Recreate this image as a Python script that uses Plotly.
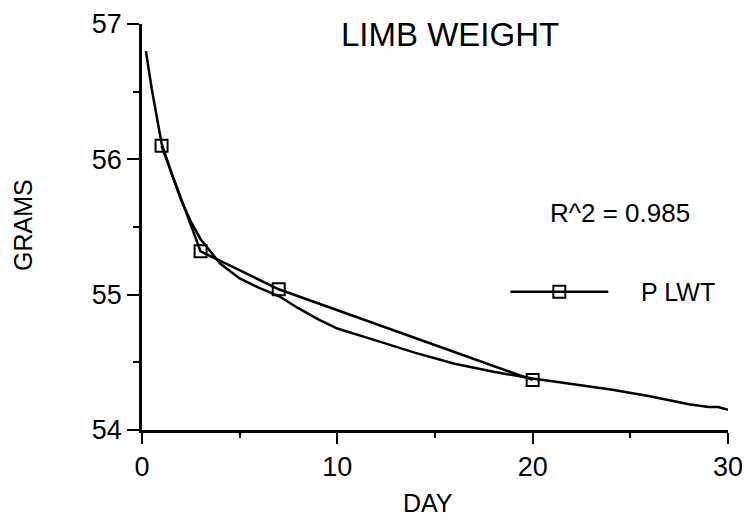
import plotly.graph_objects as go

# Observed data
days = [1, 3, 7, 20]
plwt = [56.10, 55.32, 55.04, 54.37]

# Fitted curve
fit_days = [0.2, 0.5, 1, 1.5, 2, 2.5, 3, 4, 5, 6, 7, 8, 9, 10, 12, 14, 16, 18, 20,
            22, 24, 26, 28, 29, 29.5, 30]
fit_vals = [56.80, 56.52, 56.12, 55.90, 55.70, 55.54, 55.41, 55.23, 55.12, 55.05,
            54.99, 54.90, 54.82, 54.75, 54.66, 54.57, 54.49, 54.43, 54.38,
            54.34, 54.30, 54.25, 54.19, 54.17, 54.17, 54.15]

x_ticks = [0, 10, 20, 30]
y_ticks = [54, 55, 56, 57]

FONT = "Liberation Sans"
NB = "\u00a0"

fig = go.Figure()
fig.add_trace(go.Scatter(x=fit_days, y=fit_vals, mode="lines",
                         line=dict(color="black", width=2.5), showlegend=False,
                         hoverinfo="skip"))
fig.add_trace(go.Scatter(x=days, y=plwt, mode="lines+markers", name=NB * 4 + "P LWT",
                         line=dict(color="black", width=2.5),
                         marker=dict(symbol="square-open", size=12,
                                     color="black", line=dict(width=2, color="black"))))

fig.update_layout(
    width=742, height=515,
    margin=dict(l=134, r=22, t=16, b=93, autoexpand=False),
    paper_bgcolor="white", plot_bgcolor="white",
    font=dict(family=FONT, size=26, color="black"),
    showlegend=True,
    legend=dict(x=0.62, y=0.34, xanchor="left", yanchor="middle",
                bgcolor="rgba(0,0,0,0)", itemwidth=98,
                font=dict(family=FONT, size=25, color="black")),
    xaxis=dict(range=[0, 30], tickvals=x_ticks, showgrid=False, zeroline=False,
               showline=True, linecolor="black", linewidth=2.5,
               ticks="outside", ticklen=11, tickwidth=2, tickcolor="black",
               ticklabelstandoff=0,
               minor=dict(tickvals=[5, 15, 25], ticks="outside", ticklen=5,
                          tickwidth=2, tickcolor="black"),
               tickfont=dict(family=FONT, size=27, color="black")),
    yaxis=dict(range=[54, 57], tickvals=y_ticks, showgrid=False, zeroline=False,
               showline=True, linecolor="black", linewidth=2.5,
               ticks="outside", ticklen=12, tickwidth=2, tickcolor="black",
               ticklabelstandoff=0,
               minor=dict(tickvals=[54.5, 55.5, 56.5], ticks="outside", ticklen=6,
                          tickwidth=2, tickcolor="black"),
               tickfont=dict(family=FONT, size=27, color="black")),
    annotations=[
        dict(text="LIMB WEIGHT", x=0.5256, y=0.973, xref="paper", yref="paper",
             showarrow=False, xanchor="center", yanchor="middle",
             font=dict(family=FONT, size=33, color="black")),
        dict(text="R^2 = 0.985", x=0.815, y=0.534, xref="paper", yref="paper",
             showarrow=False, xanchor="center", yanchor="middle",
             font=dict(family=FONT, size=26, color="black")),
        dict(text="GRAMS", x=-0.203, y=0.505, xref="paper", yref="paper",
             showarrow=False, xanchor="center", yanchor="middle", textangle=-90,
             font=dict(family=FONT, size=25, color="black")),
        dict(text="DAY", x=0.488, y=-0.18, xref="paper", yref="paper",
             showarrow=False, xanchor="center", yanchor="middle",
             font=dict(family=FONT, size=25, color="black")),
    ],
)

fig.write_html("out.html")
